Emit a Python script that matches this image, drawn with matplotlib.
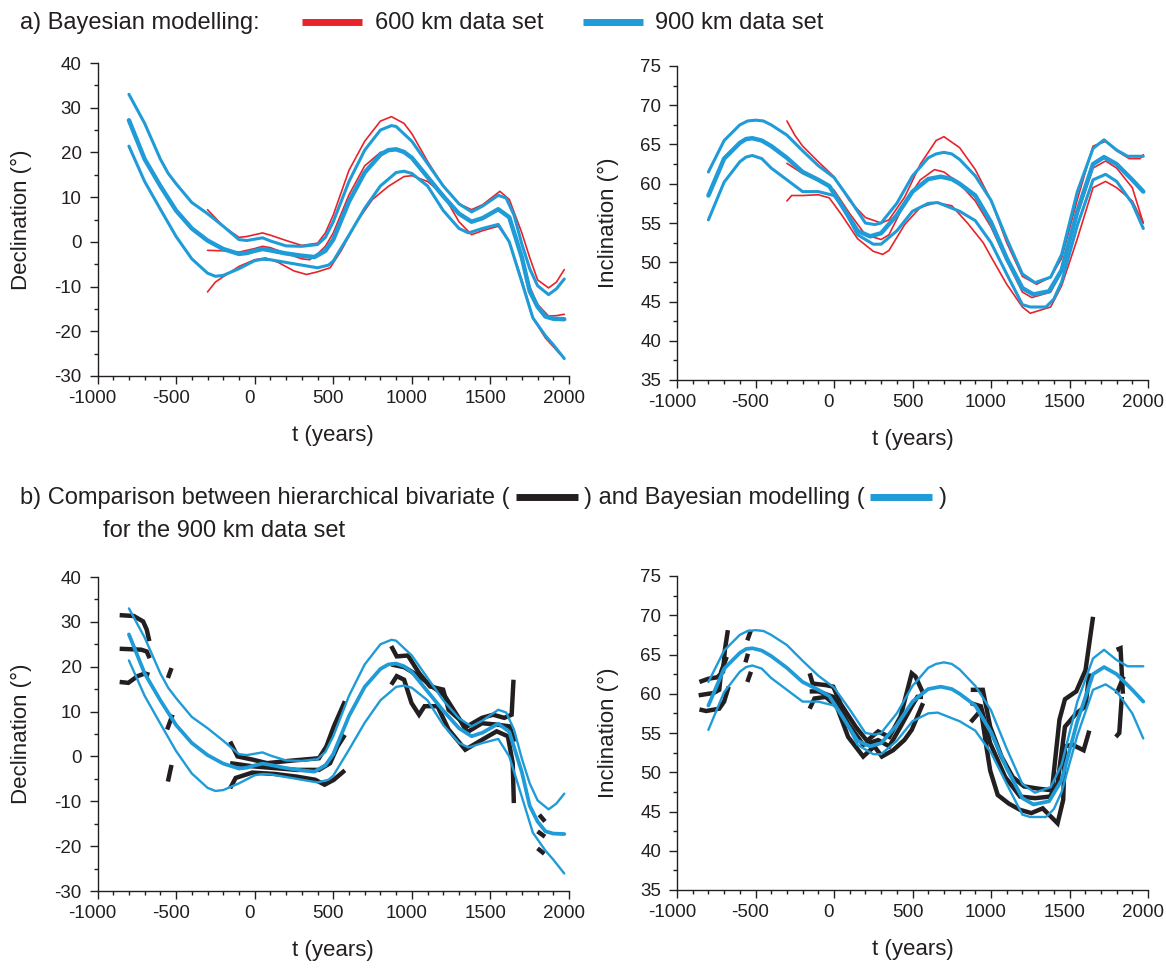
import matplotlib
matplotlib.use("Agg")
import matplotlib.pyplot as plt
from matplotlib.lines import Line2D
from matplotlib.ticker import MultipleLocator
from matplotlib.transforms import ScaledTranslation

plt.rcParams['font.family'] = ['Liberation Sans', 'DejaVu Sans']
plt.rcParams['axes.unicode_minus'] = False

RED = '#e8232b'
BLUE = '#1f9bd7'
BLACK = '#231f20'

# ---- a) Bayesian modelling, declination ----
dec900_up_t = [-800, -700, -600, -550, -500, -400, -300, -200, -100, -50, 0, 50, 100, 200, 300, 400, 450, 500, 600, 700, 800, 870, 900, 1000, 1100, 1200, 1300, 1380, 1450, 1550, 1600, 1650, 1700, 1750, 1800, 1870, 1920, 1970]
dec900_up = [33.0, 26.5, 18.5, 15.3, 13.0, 8.8, 6.3, 3.5, 0.5, 0.3, 0.6, 0.9, 0.2, -0.9, -1.0, -0.6, 1.0, 4.5, 13.5, 20.5, 25.0, 26.0, 25.8, 22.5, 17.5, 12.5, 8.5, 6.7, 8.0, 10.4, 9.8, 6.0, -0.5, -6.0, -9.8, -11.8, -10.5, -8.3]
dec900_mid_t = [-800, -700, -600, -500, -400, -300, -200, -100, -50, 0, 50, 100, 200, 300, 380, 450, 500, 600, 700, 800, 850, 900, 950, 1000, 1100, 1200, 1300, 1380, 1450, 1550, 1620, 1700, 1750, 1800, 1850, 1900, 1970]
dec900_mid = [27.2, 18.5, 12.5, 7.0, 3.0, 0.3, -1.6, -2.7, -2.5, -2.0, -1.6, -1.9, -2.6, -3.1, -3.4, -2.0, 0.5, 9.0, 15.5, 19.5, 20.5, 20.7, 20.1, 18.8, 14.5, 10.2, 6.3, 4.5, 5.3, 7.3, 5.5, -3.5, -11.0, -14.5, -16.7, -17.2, -17.3]
dec900_lo_t = [-800, -700, -600, -500, -400, -300, -250, -200, -100, 0, 50, 100, 200, 300, 400, 470, 500, 600, 700, 800, 900, 950, 1000, 1100, 1200, 1300, 1360, 1450, 1550, 1620, 1700, 1770, 1850, 1900, 1970]
dec900_lo = [21.4, 13.5, 7.3, 1.2, -3.8, -7.0, -7.7, -7.5, -6.0, -4.2, -3.9, -4.0, -4.6, -5.2, -5.8, -5.2, -4.3, 1.5, 7.5, 12.5, 15.5, 15.8, 15.3, 12.5, 7.0, 3.0, 2.0, 3.0, 3.9, 0.0, -9.0, -17.0, -21.0, -23.0, -26.1]

dec600_up_t = [-300, -200, -100, -50, 50, 100, 200, 300, 400, 450, 500, 600, 700, 800, 870, 950, 1000, 1100, 1200, 1300, 1380, 1450, 1560, 1620, 1700, 1750, 1800, 1870, 1920, 1970]
dec600_up = [7.2, 3.5, 1.0, 1.2, 2.0, 1.5, 0.3, -0.8, -0.3, 2.0, 6.0, 16.0, 22.5, 27.0, 28.0, 26.5, 24.2, 18.0, 12.5, 8.5, 7.2, 8.3, 11.3, 9.5, 2.0, -3.5, -8.5, -10.3, -9.0, -6.2]
dec600_mid_t = [-300, -200, -100, 0, 50, 100, 200, 300, 350, 400, 450, 500, 600, 700, 800, 900, 1000, 1100, 1200, 1300, 1380, 1450, 1550, 1620, 1700, 1750, 1800, 1870, 1920, 1970]
dec600_mid = [-1.9, -2.0, -2.3, -1.5, -1.0, -1.3, -2.6, -3.8, -4.0, -2.7, -1.0, 2.0, 10.5, 17.0, 20.0, 20.8, 19.0, 14.5, 10.2, 6.5, 4.6, 5.5, 7.3, 5.5, -3.0, -10.0, -14.0, -16.6, -16.5, -16.2]
dec600_lo_t = [-300, -250, -200, -100, 0, 70, 150, 250, 330, 400, 480, 550, 650, 750, 850, 950, 1000, 1100, 1200, 1300, 1380, 1450, 1550, 1620, 1700, 1770, 1850, 1940]
dec600_lo = [-11.2, -9.0, -7.8, -5.5, -4.0, -3.6, -4.6, -6.5, -7.3, -6.7, -5.8, -2.0, 4.5, 9.5, 12.4, 14.6, 14.8, 13.5, 10.6, 4.5, 1.6, 2.5, 3.5, 0.0, -8.5, -17.0, -21.5, -25.0]

# ---- a) Bayesian modelling, inclination ----
inc900_up_t = [-800, -700, -600, -550, -500, -450, -400, -300, -200, -100, 0, 100, 200, 260, 300, 400, 500, 600, 650, 700, 750, 800, 900, 1000, 1100, 1200, 1280, 1380, 1450, 1550, 1650, 1720, 1800, 1870, 1970]
inc900_up = [61.5, 65.5, 67.5, 68.0, 68.1, 68.0, 67.5, 66.2, 64.2, 62.3, 60.8, 58.0, 55.0, 54.8, 55.0, 57.5, 61.0, 63.3, 63.8, 64.0, 63.8, 63.1, 61.0, 57.9, 53.0, 48.5, 47.4, 48.1, 51.0, 59.0, 64.5, 65.6, 64.3, 63.5, 63.5]
inc900_mid_t = [-800, -700, -600, -560, -520, -460, -400, -300, -200, -100, -30, 50, 150, 230, 300, 400, 500, 600, 680, 750, 800, 900, 1000, 1100, 1200, 1270, 1370, 1450, 1550, 1650, 1720, 1800, 1900, 1970]
inc900_mid = [58.5, 63.2, 65.2, 65.7, 65.8, 65.5, 64.8, 63.3, 61.5, 60.5, 59.7, 57.2, 54.0, 53.3, 53.7, 56.0, 59.0, 60.6, 60.9, 60.6, 60.0, 58.5, 55.1, 50.5, 46.7, 45.9, 46.3, 49.0, 56.5, 62.5, 63.4, 62.5, 60.5, 59.0]
inc900_lo_t = [-800, -700, -600, -560, -520, -460, -400, -300, -200, -100, 0, 50, 150, 250, 300, 400, 500, 600, 660, 800, 900, 1000, 1100, 1200, 1250, 1350, 1400, 1450, 1550, 1650, 1730, 1800, 1900, 1970]
inc900_lo = [55.4, 60.2, 62.8, 63.4, 63.6, 63.2, 62.0, 60.5, 59.0, 59.0, 58.5, 57.3, 53.5, 52.3, 52.3, 54.0, 56.5, 57.5, 57.6, 56.5, 55.3, 52.5, 48.5, 44.6, 44.3, 44.3, 45.3, 47.5, 54.7, 60.5, 61.2, 60.3, 57.5, 54.3]

inc600_up_t = [-300, -250, -200, -100, 0, 100, 200, 300, 350, 450, 550, 650, 700, 800, 900, 1000, 1100, 1200, 1290, 1380, 1450, 1550, 1650, 1730, 1800, 1880, 1950, 1970]
inc600_up = [68.0, 66.2, 64.8, 62.8, 60.9, 57.8, 55.7, 55.0, 55.4, 58.3, 62.5, 65.5, 66.0, 64.6, 61.8, 57.9, 52.5, 48.2, 47.2, 48.1, 50.5, 58.0, 64.8, 65.4, 64.2, 63.2, 63.2, 63.7]
inc600_mid_t = [-300, -200, -100, 0, 100, 200, 300, 350, 450, 550, 640, 700, 800, 900, 1000, 1100, 1200, 1260, 1380, 1450, 1550, 1650, 1730, 1800, 1900, 1970]
inc600_mid = [62.6, 61.3, 60.5, 59.2, 56.2, 53.5, 52.9, 53.5, 57.5, 60.5, 61.8, 61.5, 60.0, 57.8, 54.5, 50.2, 46.2, 45.5, 46.2, 48.8, 56.0, 62.0, 62.9, 62.0, 59.5, 55.0]
inc600_lo_t = [-300, -270, -200, -100, -30, 50, 150, 250, 310, 350, 450, 550, 650, 750, 850, 950, 1000, 1100, 1200, 1250, 1380, 1450, 1550, 1650, 1730, 1800, 1900, 1970]
inc600_lo = [57.8, 58.5, 58.5, 58.6, 58.2, 56.0, 53.0, 51.4, 51.0, 51.5, 54.8, 57.0, 57.6, 57.2, 55.0, 52.5, 50.7, 47.2, 44.3, 43.5, 44.3, 47.0, 53.0, 59.5, 60.3, 59.5, 57.8, 55.0]

# ---- b) hierarchical bivariate (900 km), pieces with gaps ----
hb_dec_t = [
    [-859, -769, -710, -687, -670],
    [-859, -722, -687, -668],
    [-859, -804, -745, -698, -670],
    [-552, -529],
    [-557, -522],
    [-552, -529],
    [-156, -109, -15, 79, 245, 409, 456, 504, 574],
    [-156, -15, 126, 267, 409, 480, 527, 574],
    [-156, -121, -15, 126, 267, 385, 445, 504, 574],
    [869, 904, 975, 1046, 1116, 1199, 1234, 1352, 1446, 1517, 1588, 1635, 1647],
    [869, 951, 1046, 1211, 1305, 1352, 1446, 1540, 1623, 1654],
    [869, 904, 951, 998, 1046, 1081, 1163, 1234, 1340, 1446, 1540, 1611, 1642, 1649],
    [1811, 1847],
    [1800, 1847],
    [1800, 1843],
]
hb_dec = [
    [31.5, 31.3, 30.1, 28.3, 25.7],
    [24.0, 23.8, 23.4, 21.9],
    [16.6, 16.4, 17.9, 18.5, 18.2],
    [17.5, 19.7],
    [6.0, 9.3],
    [-5.6, -1.9],
    [3.3, 0.0, -0.7, -1.5, -0.9, -0.4, 2.2, 6.7, 12.3],
    [-1.5, -2.2, -2.6, -3.0, -3.0, -1.5, 2.2, 4.8],
    [-7.1, -4.8, -3.6, -3.9, -4.5, -5.2, -6.3, -5.2, -3.1],
    [24.6, 22.3, 22.5, 18.6, 15.6, 14.9, 10.4, 6.7, 8.6, 9.3, 8.6, 9.3, 17.1],
    [20.5, 19.9, 17.9, 13.4, 8.2, 5.4, 7.4, 7.1, 6.7, 3.3],
    [16.0, 17.9, 17.1, 11.9, 9.3, 11.2, 11.2, 6.0, 1.5, 3.7, 5.6, 4.5, -1.5, -10.4],
    [-13.0, -14.5],
    [-16.7, -17.9],
    [-20.5, -21.7],
]

hb_inc_t = [
    [-857, -802, -743, -707, -695, -676],
    [-862, -767, -731, -719, -683],
    [-857, -814, -731, -700, -671],
    [-552, -529],
    [-564, -548],
    [-552, -529],
    [-155, -136, -52, -5, 43, 138, 210, 281, 352, 424, 495, 519, 567],
    [-155, -100, -5, 90, 186, 281, 352, 424, 495, 531, 567],
    [-155, -124, -52, 19, 90, 186, 257, 305, 376, 448, 495, 567],
    [871, 948, 995, 1067, 1138, 1210, 1305, 1388, 1436, 1471, 1543, 1602, 1650],
    [871, 936, 995, 1090, 1186, 1281, 1376, 1424, 1471, 1543, 1602, 1626],
    [871, 936, 971, 995, 1043, 1114, 1186, 1257, 1329, 1424, 1460, 1471, 1519, 1590, 1626],
    [1800, 1825, 1840],
    [1800, 1845],
    [1795, 1817, 1833],
]
hb_inc = [
    [61.5, 61.9, 62.1, 62.8, 65.6, 68.1],
    [59.8, 60.1, 60.5, 62.8, 64.7],
    [58.0, 57.8, 58.1, 59.0, 60.9],
    [66.8, 68.1],
    [64.0, 65.1],
    [61.5, 62.8],
    [62.6, 61.3, 61.1, 60.9, 58.7, 55.8, 54.0, 55.2, 54.5, 57.1, 62.6, 62.2, 60.1],
    [60.3, 60.3, 59.6, 56.2, 53.5, 54.1, 53.3, 55.8, 58.4, 59.6, 59.6],
    [58.1, 59.4, 59.6, 58.3, 54.5, 52.0, 53.3, 52.0, 52.8, 54.1, 55.4, 58.8],
    [60.5, 60.5, 55.8, 52.0, 49.4, 48.2, 47.9, 47.7, 56.7, 59.3, 60.3, 63.0, 69.8],
    [58.8, 58.4, 53.7, 49.4, 46.9, 46.7, 46.9, 48.6, 55.8, 57.5, 58.4, 62.6],
    [56.4, 57.9, 53.2, 50.2, 47.1, 46.0, 45.2, 44.8, 45.4, 43.5, 46.5, 53.3, 53.5, 52.8, 55.3],
    [65.6, 65.8, 60.0],
    [60.0, 62.2],
    [54.5, 55.0, 59.6],
]

W, H = 1166, 968
fig = plt.figure(figsize=(W / 100, H / 100), dpi=100)


def box(x0, y0, x1, y1):
    # pixel box (top-left origin) -> figure fraction
    return [x0 / W, 1 - y1 / H, (x1 - x0) / W, (y1 - y0) / H]


def style(ax, ylim, ymaj, ymin, ylabel, ylab_x):
    ax.set_xlim(-1000, 2000)
    ax.set_ylim(*ylim)
    ax.spines[['top', 'right']].set_visible(False)
    for s in ('left', 'bottom'):
        ax.spines[s].set_linewidth(1.0)
        ax.spines[s].set_color(BLACK)
    ax.xaxis.set_major_locator(MultipleLocator(500))
    ax.xaxis.set_minor_locator(MultipleLocator(100))
    ax.yaxis.set_major_locator(MultipleLocator(ymaj))
    ax.yaxis.set_minor_locator(MultipleLocator(ymin))
    ax.tick_params(which='major', direction='out', length=5.5, width=1.0, labelsize=13.5, colors=BLACK)
    ax.tick_params(axis='x', which='major', pad=4.5)
    ax.tick_params(axis='y', which='major', pad=6)
    ax.tick_params(which='minor', direction='out', length=3.2, width=1.0, colors=BLACK)
    shift = ScaledTranslation(-5 / 100, 0, fig.dpi_scale_trans)
    for lab in ax.get_xticklabels():
        lab.set_transform(lab.get_transform() + shift)
    ax.set_xlabel('t (years)', fontsize=16, color=BLACK)
    ax.set_ylabel(ylabel, fontsize=16, color=BLACK)
    ax.xaxis.set_label_coords(0.5, -0.19)
    ax.xaxis.label.set_va('center')
    ax.yaxis.set_label_coords(ylab_x, 0.5)
    ax.yaxis.label.set_va('center')


ax1 = fig.add_axes(box(97.5, 63, 569, 376))
ax2 = fig.add_axes(box(677, 66, 1148, 380))
ax3 = fig.add_axes(box(97.5, 577, 569, 891))
ax4 = fig.add_axes(box(677, 576, 1148, 890))

kw = dict(solid_joinstyle='round', solid_capstyle='round')

# panel a, declination
for t, v in [(dec600_up_t, dec600_up), (dec600_mid_t, dec600_mid), (dec600_lo_t, dec600_lo)]:
    ax1.plot(t, v, color=RED, lw=1.2, **kw)
ax1.plot(dec900_up_t, dec900_up, color=BLUE, lw=2.2, **kw)
ax1.plot(dec900_mid_t, dec900_mid, color=BLUE, lw=3.2, **kw)
ax1.plot(dec900_lo_t, dec900_lo, color=BLUE, lw=2.2, **kw)
style(ax1, (-30, 40), 10, 5, 'Declination (°)', -0.162)

# panel a, inclination
for t, v in [(inc600_up_t, inc600_up), (inc600_mid_t, inc600_mid), (inc600_lo_t, inc600_lo)]:
    ax2.plot(t, v, color=RED, lw=1.2, **kw)
ax2.plot(inc900_up_t, inc900_up, color=BLUE, lw=2.2, **kw)
ax2.plot(inc900_mid_t, inc900_mid, color=BLUE, lw=3.2, **kw)
ax2.plot(inc900_lo_t, inc900_lo, color=BLUE, lw=2.2, **kw)
style(ax2, (35, 75), 5, 2.5, 'Inclination (°)', -0.146)

# panel b, declination
for t, v in zip(hb_dec_t, hb_dec):
    ax3.plot(t, v, color=BLACK, lw=3.2, solid_joinstyle='miter', solid_capstyle='butt')
ax3.plot(dec900_up_t, dec900_up, color=BLUE, lw=1.7, **kw)
ax3.plot(dec900_mid_t, dec900_mid, color=BLUE, lw=2.7, **kw)
ax3.plot(dec900_lo_t, dec900_lo, color=BLUE, lw=1.7, **kw)
style(ax3, (-30, 40), 10, 5, 'Declination (°)', -0.162)

# panel b, inclination
for t, v in zip(hb_inc_t, hb_inc):
    ax4.plot(t, v, color=BLACK, lw=3.2, solid_joinstyle='miter', solid_capstyle='butt')
ax4.plot(inc900_up_t, inc900_up, color=BLUE, lw=1.7, **kw)
ax4.plot(inc900_mid_t, inc900_mid, color=BLUE, lw=2.7, **kw)
ax4.plot(inc900_lo_t, inc900_lo, color=BLUE, lw=1.7, **kw)
style(ax4, (35, 75), 5, 2.5, 'Inclination (°)', -0.146)


def ftext(x, y, s, **kw):
    return fig.text(x / W, 1 - y / H, s, fontsize=17, va='center', ha='left', color=BLACK, **kw)


def fline(x0, x1, y, color, lw=5):
    fig.add_artist(Line2D([x0 / W, x1 / W], [1 - y / H, 1 - y / H], color=color, lw=lw,
                          transform=fig.transFigure, solid_capstyle='butt'))


# header a
ftext(20, 23, 'a) Bayesian modelling:')
fline(302, 362, 22, RED)
ftext(375, 23, '600 km data set')
fline(583, 643, 22, BLUE)
ftext(655, 23, '900 km data set')

# header b, pieces placed one after another
renderer = fig.canvas.get_renderer()
x = 20
parts = [('t', 'b) Comparison between hierarchical bivariate ('), ('l', BLACK),
         ('t', ') and Bayesian modelling ('), ('l', BLUE), ('t', ')')]
for kind, val in parts:
    if kind == 't':
        tx = ftext(x, 498, val)
        x += tx.get_window_extent(renderer).width
    else:
        fline(x + 6, x + 68, 497, val)
        x += 74
ftext(103, 531, 'for the 900 km data set')

fig.savefig('out.png', dpi=100)
